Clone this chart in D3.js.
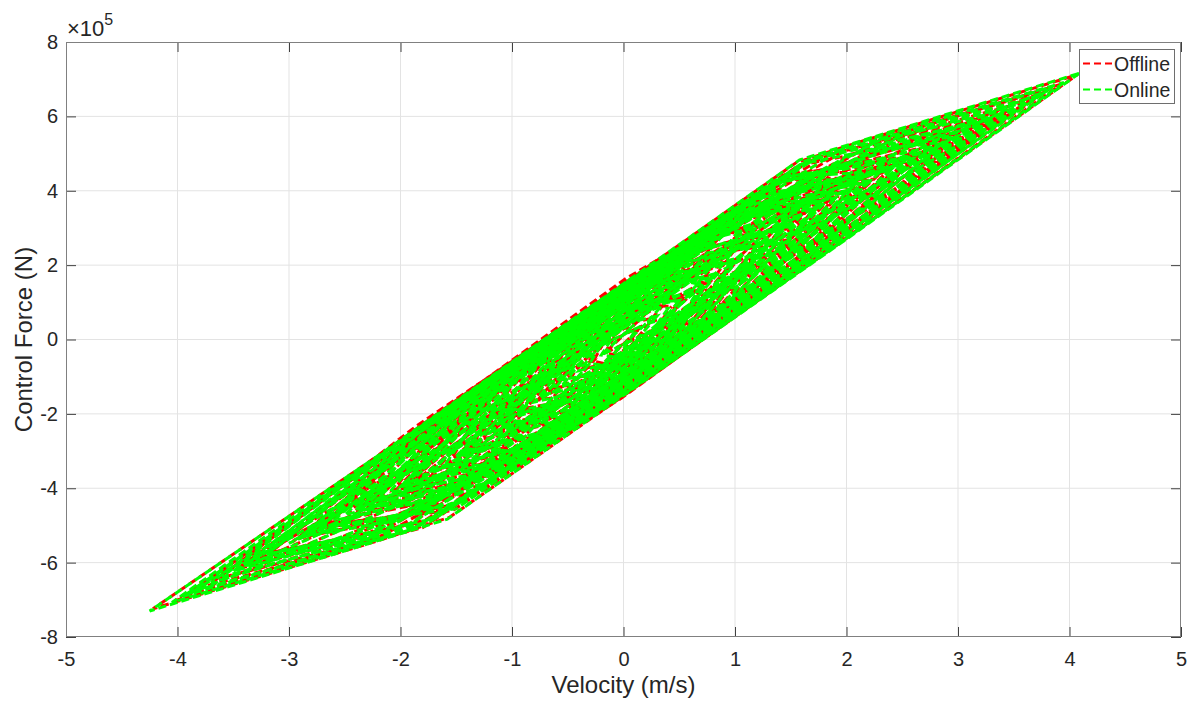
<!DOCTYPE html>
<meta charset="utf-8">
<style>
  body { margin: 0; background: #fff; }
  svg text { font-family: "Liberation Sans", Arial, sans-serif; fill: #262626; }
</style>
<div id="chart"></div>
<script src="https://d3js.org/d3.v7.min.js"></script>
<script>

// velocity (m/s) and control force (in units of 1e5 N), one inner array per hysteresis loop
const offlineLoops = [
  [[4.07,7.12],[2.02,2.78],[-0.05,-1.62],[-1.56,-4.78],[-2.2,-5.41],[-4.22,-7.24],[-2.14,-3.0],[-0.1,1.28],[1.55,4.76],[2.04,5.24]],
  [[3.92,6.86],[1.97,2.66],[0.08,-1.32],[-1.93,-5.15],[-3.82,-6.7],[-1.88,-2.45],[0.02,1.64],[2.03,5.16]],
  [[3.72,6.58],[1.74,2.31],[-0.15,-1.76],[-2.14,-5.24],[-4.02,-7.02],[-2.09,-3.03],[-0.21,1.13],[1.79,4.9]],
  [[3.47,6.18],[1.76,2.24],[-0.08,-1.5],[-1.8,-5.06],[-3.63,-6.42],[-1.86,-2.33],[-0.02,1.4],[1.7,4.87]],
  [[3.33,5.97],[1.6,1.94],[-0.02,-1.58],[-1.76,-4.84],[-3.37,-6.03],[-1.7,-2.27],[-0.08,1.27],[1.66,4.84]],
  [[3.07,5.58],[1.63,2.04],[0.13,-1.12],[-1.43,-4.37],[-2.93,-5.36],[-1.37,-1.5],[0.07,1.64],[1.57,4.68]],
  [[2.88,5.3],[1.31,1.38],[-0.15,-1.7],[-1.72,-4.86],[-3.17,-5.73],[-1.66,-2.12],[-0.21,0.96],[1.37,4.24]],
  [[2.67,4.97],[1.41,1.62],[0.08,-1.17],[-1.25,-4.05],[-2.63,-4.92],[-1.31,-1.31],[0.02,1.48],[1.35,4.16]],
  [[2.53,4.77],[1.15,1.12],[-0.12,-1.57],[-1.51,-4.45],[-2.77,-5.12],[-1.45,-1.75],[-0.18,0.94],[1.21,3.82]],
  [[2.37,4.52],[1.28,1.43],[0.13,-0.99],[-1.08,-3.51],[-2.23,-4.31],[-1.02,-0.91],[0.07,1.51],[1.22,3.83]],
  [[2.23,4.31],[1.02,0.91],[-0.07,-1.41],[-1.28,-3.93],[-2.37,-4.52],[-1.22,-1.33],[-0.13,0.99],[1.08,3.51]],
  [[2.02,3.99],[1.07,1.05],[0.0,-1.17],[-1.02,-3.31],[-1.97,-3.91],[-0.96,-0.85],[0.06,1.29],[1.01,3.31]],
  [[1.93,3.86],[0.97,0.95],[0.13,-0.84],[-0.83,-2.83],[-1.67,-3.46],[-0.77,-0.53],[0.07,1.36],[1.03,3.25]],
  [[1.72,3.53],[0.86,0.69],[-0.07,-1.26],[-1.06,-3.31],[-1.92,-3.83],[-1.0,-1.01],[-0.13,0.84],[0.8,2.79]],
  [[1.63,3.41],[0.8,0.69],[0.08,-0.85],[-0.76,-2.58],[-1.47,-3.1],[-0.7,-0.48],[0.02,1.16],[0.86,2.79]],
  [[1.42,3.0],[0.69,0.44],[-0.1,-1.22],[-0.94,-2.96],[-1.73,-3.56],[-0.88,-0.86],[-0.16,0.68],[0.63,2.34]],
  [[1.43,2.99],[0.7,0.58],[0.08,-0.75],[-0.66,-2.27],[-1.27,-2.68],[-0.6,-0.37],[0.02,1.06],[0.76,2.48]],
  [[1.22,2.58],[0.61,0.39],[-0.07,-1.04],[-0.81,-2.57],[-1.42,-3.0],[-0.75,-0.71],[-0.13,0.62],[0.55,2.05]],
  [[1.23,2.57],[0.6,0.47],[0.08,-0.65],[-0.56,-1.96],[-1.07,-2.26],[-0.5,-0.26],[0.02,0.96],[0.66,2.17]],
  [[1.02,2.16],[0.52,0.33],[-0.05,-0.87],[-0.67,-2.14],[-1.17,-2.47],[-0.61,-0.54],[-0.11,0.53],[0.46,1.73]],
  [[1.03,2.15],[0.5,0.38],[0.08,-0.52],[-0.46,-1.63],[-0.87,-1.84],[-0.4,-0.17],[0.02,0.84],[0.56,1.84]],
  [[0.82,1.74],[0.43,0.27],[-0.02,-0.68],[-0.53,-1.72],[-0.92,-1.95],[-0.47,-0.38],[-0.08,0.46],[0.37,1.41]],
  [[0.83,1.73],[0.4,0.3],[0.08,-0.4],[-0.36,-1.29],[-0.67,-1.42],[-0.3,-0.09],[0.02,0.71],[0.46,1.5]],
  [[0.57,1.21],[0.28,0.08],[-0.07,-0.66],[-0.48,-1.5],[-0.77,-1.63],[-0.42,-0.4],[-0.13,0.24],[0.22,0.98]],
  [[0.53,1.1],[0.22,0.08],[0.03,-0.35],[-0.28,-0.98],[-0.47,-1.0],[-0.22,-0.08],[-0.03,0.45],[0.28,0.98]],
  [[2.63,4.92],[1.82,2.74],[1.13,1.31],[0.32,-0.37],[-0.37,-0.79],[0.38,1.84],[1.07,3.31],[1.88,4.72]],
  [[2.97,5.43],[2.33,3.78],[1.57,2.36],[0.93,0.99],[0.23,0.47],[0.87,2.79],[1.63,4.33],[2.27,5.04]],
  [[0.27,0.58],[-0.42,-1.95],[-1.23,-3.62],[-1.92,-4.73],[-2.67,-4.97],[-1.98,-3.03],[-1.17,-1.42],[-0.48,0.06]],
  [[-0.27,-0.58],[-1.06,-3.16],[-1.72,-4.42],[-2.51,-5.36],[-3.17,-5.73],[-2.45,-4.02],[-1.78,-2.74],[-1.0,-1.16]],
  [[2.23,4.31],[1.77,2.97],[1.43,2.29],[0.97,1.35],[0.63,1.31],[1.03,2.85],[1.37,3.59],[1.83,4.34]],
  [[-0.47,-1.0],[-0.98,-2.75],[-1.37,-3.59],[-1.88,-4.4],[-2.27,-4.36],[-1.82,-3.05],[-1.43,-2.29],[-0.92,-1.25]],
  [[2.03,4.01],[1.22,1.63],[0.53,0.15],[-0.28,-1.53],[-0.97,-2.05],[-0.22,0.47],[0.47,1.95],[1.28,3.63]],
  [[0.97,2.05],[0.28,-0.37],[-0.53,-2.05],[-1.22,-3.53],[-2.03,-4.01],[-1.28,-1.63],[-0.47,-0.15],[0.22,1.43]],
  [[3.82,6.75],[1.53,1.86],[-0.27,-1.93],[-2.33,-5.43],[-3.92,-6.86],[-1.57,-1.96],[0.37,2.14],[2.33,5.41]],
  [[3.63,6.42],[1.17,1.27],[-0.93,-3.14],[-2.27,-5.22],[-3.27,-5.88],[-1.23,-1.37],[0.83,2.93],[2.47,5.46]],
  [[3.17,5.73],[2.13,3.14],[0.23,-0.81],[-1.93,-4.99],[-3.67,-6.49],[-2.57,-4.04],[-0.53,0.18],[1.43,4.27]],
  [[3.43,6.12],[2.27,3.53],[0.63,0.16],[-1.17,-3.62],[-2.47,-4.67],[-1.63,-2.26],[0.07,1.31],[2.03,4.97]],
  [[2.37,4.52],[1.53,2.05],[-0.07,-1.31],[-2.33,-5.29],[-3.47,-6.18],[-2.17,-3.34],[-0.63,-0.16],[1.17,3.62]],
  [[2.93,5.36],[1.87,2.84],[0.33,-0.37],[-1.27,-3.73],[-2.27,-4.36],[-1.13,-1.31],[0.57,2.26],[2.23,5.1]],
  [[2.17,4.21],[1.23,1.52],[-0.47,-2.05],[-2.03,-4.89],[-2.87,-5.27],[-2.07,-3.22],[-0.33,0.37],[1.37,3.94]],
  [[2.33,4.54],[1.37,1.94],[0.23,-0.48],[-1.07,-3.21],[-1.87,-3.76],[-1.03,-1.2],[0.37,1.74],[1.73,4.46]],
  [[1.83,3.71],[0.97,1.1],[-0.37,-1.74],[-1.73,-4.47],[-2.37,-4.45],[-1.47,-2.15],[-0.23,0.48],[1.07,3.21]],
  [[1.73,3.56],[0.97,0.75],[0.03,-1.25],[-0.97,-3.35],[-1.57,-3.31],[-1.03,-0.85],[-0.03,1.25],[1.03,3.45]],
  [[2.63,4.92],[1.57,1.9],[0.33,-0.74],[-0.97,-3.47],[-2.07,-4.06],[-1.33,-1.36],[-0.03,1.37],[1.43,4.41]],
  [[1.87,3.76],[1.13,0.96],[-0.27,-1.98],[-1.53,-4.6],[-2.67,-4.97],[-1.93,-2.63],[-0.57,0.19],[0.87,3.24]],
  [[1.53,3.2],[0.77,1.03],[0.13,-0.34],[-0.63,-1.91],[-1.17,-2.47],[-0.57,-0.61],[0.17,0.97],[0.93,2.54]],
  [[0.73,1.52],[0.27,-0.52],[-0.07,-1.26],[-0.53,-2.2],[-0.87,-1.84],[-0.47,0.1],[-0.13,0.84],[0.33,1.78]],
  [[1.27,2.68],[0.93,0.84],[0.47,-0.1],[0.13,-0.84],[-0.27,-0.58],[0.07,1.26],[0.53,2.2],[0.87,2.94]],
  [[3.27,5.88],[2.63,4.4],[1.87,3.01],[1.33,1.93],[0.83,1.73],[1.27,3.53],[1.93,4.61],[2.57,5.34]],
  [[-0.87,-1.84],[-1.33,-3.63],[-1.87,-4.51],[-2.63,-5.44],[-3.37,-6.03],[-2.57,-4.3],[-1.93,-3.11],[-1.27,-1.83]],
  [[3.77,6.64],[3.23,5.62],[2.47,4.31],[1.83,3.2],[1.23,2.57],[1.77,4.12],[2.53,5.13],[3.17,5.94]],
  [[-1.27,-2.68],[-1.83,-4.22],[-2.47,-5.03],[-3.23,-6.04],[-3.87,-6.79],[-3.17,-5.52],[-2.53,-4.41],[-1.77,-3.1]],
  [[0.43,0.89],[0.03,-0.85],[-0.53,-2.0],[-0.97,-2.95],[-1.37,-2.89],[-1.03,-1.25],[-0.47,-0.1],[-0.03,0.95]],
  [[2.07,4.06],[1.53,1.95],[0.87,0.59],[0.33,-0.57],[-0.17,-0.37],[0.27,1.83],[0.93,3.19],[1.47,4.35]],
  [[0.13,0.26],[-0.43,-2.14],[-0.97,-3.3],[-1.63,-4.64],[-2.17,-4.21],[-1.57,-2.06],[-1.03,-0.9],[-0.37,0.46]],
  [[2.97,5.43],[1.53,2.85],[0.03,-0.3],[-1.47,-3.45],[-2.97,-5.43],[-1.53,-2.85],[-0.03,0.3],[1.47,3.45]],
  [[2.63,4.92],[1.32,2.19],[0.13,-0.34],[-1.18,-3.07],[-2.37,-4.52],[-1.12,-1.77],[0.07,0.86],[1.38,3.49]],
  [[1.63,3.41],[0.67,0.97],[-0.17,-0.82],[-1.13,-2.81],[-1.97,-3.91],[-1.07,-1.81],[-0.23,0.08],[0.73,1.97]],
  [[2.17,4.21],[1.33,2.33],[0.32,0.24],[-0.57,-1.66],[-1.53,-3.2],[-0.63,-0.86],[0.38,1.24],[1.27,3.13]],
  [[1.83,3.71],[1.12,2.07],[0.53,0.8],[-0.18,-0.67],[-0.77,-1.63],[-0.12,0.03],[0.47,1.3],[1.18,2.77]],
  [[0.77,1.63],[0.18,0.07],[-0.47,-1.3],[-1.18,-2.77],[-1.83,-3.71],[-1.12,-2.07],[-0.53,-0.8],[0.12,0.57]],
  [[1.17,2.47],[0.78,0.88],[0.27,-0.17],[-0.12,-1.02],[-0.63,-1.31],[-0.18,0.38],[0.33,1.43],[0.72,2.28]],
  [[0.53,1.1],[0.07,-0.59],[-0.27,-1.33],[-0.73,-2.27],[-1.07,-2.26],[-0.67,-0.67],[-0.33,0.07],[0.13,1.01]],
  [[3.47,6.18],[2.88,5.15],[2.17,3.98],[1.58,3.01],[0.93,1.94],[1.52,3.51],[2.23,4.54],[2.82,5.35]],
  [[-0.93,-1.94],[-1.52,-3.51],[-2.23,-4.54],[-2.82,-5.35],[-3.47,-6.18],[-2.88,-5.15],[-2.17,-3.98],[-1.58,-3.01]],
  [[2.77,5.12],[2.08,3.68],[1.27,2.18],[0.58,0.71],[-0.17,-0.37],[0.52,1.61],[1.33,3.28],[2.02,4.4]],
  [[0.17,0.37],[-0.52,-1.61],[-1.33,-3.28],[-2.02,-4.4],[-2.77,-5.12],[-2.08,-3.68],[-1.27,-2.18],[-0.58,-0.71]]
];

const onlineLoops = [
  [[4.09,7.16],[2.0,2.7],[-0.08,-1.67],[-1.58,-4.83],[-2.17,-5.38],[-4.25,-7.3],[-2.17,-3.06],[-0.08,1.33],[1.58,4.83],[2.0,5.22]],
  [[3.95,6.91],[2.0,2.72],[0.05,-1.38],[-1.9,-5.11],[-3.85,-6.76],[-1.9,-2.51],[0.05,1.59],[2.0,5.2]],
  [[3.7,6.54],[1.76,2.25],[-0.18,-1.82],[-2.11,-5.29],[-4.05,-7.07],[-2.11,-2.97],[-0.18,1.08],[1.76,4.95]],
  [[3.5,6.23],[1.73,2.18],[-0.05,-1.56],[-1.83,-5.01],[-3.6,-6.38],[-1.83,-2.39],[-0.05,1.35],[1.73,4.92]],
  [[3.3,5.93],[1.63,2.0],[-0.05,-1.53],[-1.73,-4.89],[-3.4,-6.08],[-1.73,-2.21],[-0.05,1.32],[1.63,4.8]],
  [[3.1,5.63],[1.6,1.98],[0.1,-1.17],[-1.4,-4.32],[-2.9,-5.32],[-1.4,-1.56],[0.1,1.59],[1.6,4.72]],
  [[2.85,5.25],[1.34,1.43],[-0.18,-1.75],[-1.69,-4.81],[-3.2,-5.78],[-1.69,-2.17],[-0.18,1.01],[1.34,4.19]],
  [[2.7,5.02],[1.38,1.57],[0.05,-1.22],[-1.28,-4.0],[-2.6,-4.87],[-1.28,-1.36],[0.05,1.43],[1.38,4.21]],
  [[2.5,4.72],[1.18,1.17],[-0.15,-1.62],[-1.48,-4.4],[-2.8,-5.17],[-1.48,-1.8],[-0.15,0.99],[1.18,3.77]],
  [[2.4,4.57],[1.25,1.38],[0.1,-1.04],[-1.05,-3.46],[-2.2,-4.26],[-1.05,-0.96],[0.1,1.46],[1.25,3.88]],
  [[2.2,4.26],[1.05,0.96],[-0.1,-1.46],[-1.25,-3.88],[-2.4,-4.57],[-1.25,-1.38],[-0.1,1.04],[1.05,3.46]],
  [[2.05,4.04],[1.04,1.0],[0.03,-1.12],[-0.99,-3.26],[-2.0,-3.96],[-0.99,-0.9],[0.03,1.24],[1.04,3.36]],
  [[1.9,3.81],[1.0,1.0],[0.1,-0.89],[-0.8,-2.78],[-1.7,-3.51],[-0.8,-0.58],[0.1,1.31],[1.0,3.2]],
  [[1.75,3.58],[0.83,0.64],[-0.1,-1.31],[-1.03,-3.26],[-1.95,-3.88],[-1.03,-1.06],[-0.1,0.89],[0.83,2.84]],
  [[1.6,3.36],[0.83,0.74],[0.05,-0.9],[-0.73,-2.53],[-1.5,-3.15],[-0.73,-0.53],[0.05,1.11],[0.83,2.74]],
  [[1.45,3.05],[0.66,0.39],[-0.13,-1.27],[-0.91,-2.91],[-1.7,-3.51],[-0.91,-0.91],[-0.13,0.73],[0.66,2.39]],
  [[1.4,2.94],[0.73,0.63],[0.05,-0.8],[-0.63,-2.22],[-1.3,-2.73],[-0.63,-0.42],[0.05,1.01],[0.73,2.43]],
  [[1.25,2.63],[0.58,0.34],[-0.1,-1.09],[-0.78,-2.52],[-1.45,-3.05],[-0.78,-0.76],[-0.1,0.67],[0.58,2.1]],
  [[1.2,2.52],[0.63,0.52],[0.05,-0.7],[-0.53,-1.91],[-1.1,-2.31],[-0.53,-0.31],[0.05,0.91],[0.63,2.12]],
  [[1.05,2.21],[0.49,0.28],[-0.08,-0.92],[-0.64,-2.09],[-1.2,-2.52],[-0.64,-0.59],[-0.08,0.58],[0.49,1.78]],
  [[1.0,2.1],[0.53,0.43],[0.05,-0.57],[-0.43,-1.58],[-0.9,-1.89],[-0.43,-0.22],[0.05,0.79],[0.53,1.79]],
  [[0.85,1.79],[0.4,0.22],[-0.05,-0.73],[-0.5,-1.67],[-0.95,-2.0],[-0.5,-0.43],[-0.05,0.51],[0.4,1.46]],
  [[0.8,1.68],[0.43,0.35],[0.05,-0.45],[-0.33,-1.24],[-0.7,-1.47],[-0.33,-0.14],[0.05,0.66],[0.43,1.45]],
  [[0.6,1.26],[0.25,0.03],[-0.1,-0.71],[-0.45,-1.45],[-0.8,-1.68],[-0.45,-0.45],[-0.1,0.29],[0.25,1.03]],
  [[0.5,1.05],[0.25,0.13],[0,-0.4],[-0.25,-0.93],[-0.5,-1.05],[-0.25,-0.13],[0,0.4],[0.25,0.93]],
  [[2.6,4.87],[1.85,2.79],[1.1,1.26],[0.35,-0.32],[-0.4,-0.84],[0.35,1.79],[1.1,3.36],[1.85,4.68]],
  [[3.0,5.48],[2.3,3.73],[1.6,2.41],[0.9,0.94],[0.2,0.42],[0.9,2.84],[1.6,4.29],[2.3,5.09]],
  [[0.3,0.63],[-0.45,-2.0],[-1.2,-3.57],[-1.95,-4.78],[-2.7,-5.02],[-1.95,-2.98],[-1.2,-1.47],[-0.45,0.11]],
  [[-0.3,-0.63],[-1.03,-3.11],[-1.75,-4.47],[-2.48,-5.31],[-3.2,-5.78],[-2.48,-4.07],[-1.75,-2.69],[-1.03,-1.21]],
  [[2.2,4.26],[1.8,3.02],[1.4,2.24],[1.0,1.4],[0.6,1.26],[1.0,2.8],[1.4,3.64],[1.8,4.3]],
  [[-0.5,-1.05],[-0.95,-2.7],[-1.4,-3.64],[-1.85,-4.36],[-2.3,-4.41],[-1.85,-3.1],[-1.4,-2.24],[-0.95,-1.3]],
  [[2.0,3.96],[1.25,1.68],[0.5,0.1],[-0.25,-1.48],[-1.0,-2.1],[-0.25,0.42],[0.5,2.0],[1.25,3.58]],
  [[1.0,2.1],[0.25,-0.42],[-0.5,-2.0],[-1.25,-3.58],[-2.0,-3.96],[-1.25,-1.68],[-0.5,-0.1],[0.25,1.48]],
  [[3.85,6.8],[1.5,1.8],[-0.3,-1.98],[-2.3,-5.38],[-3.95,-6.91],[-1.6,-2.01],[0.4,2.19],[2.3,5.38]],
  [[3.6,6.38],[1.2,1.32],[-0.9,-3.09],[-2.3,-5.27],[-3.3,-5.93],[-1.2,-1.32],[0.8,2.88],[2.5,5.5]],
  [[3.2,5.78],[2.1,3.09],[0.2,-0.86],[-1.9,-4.94],[-3.7,-6.54],[-2.6,-4.09],[-0.5,0.23],[1.4,4.22]],
  [[3.4,6.08],[2.3,3.58],[0.6,0.11],[-1.2,-3.67],[-2.5,-4.72],[-1.6,-2.21],[0.1,1.36],[2.0,4.93]],
  [[2.4,4.57],[1.5,2.0],[-0.1,-1.36],[-2.3,-5.24],[-3.5,-6.23],[-2.2,-3.39],[-0.6,-0.11],[1.2,3.67]],
  [[2.9,5.32],[1.9,2.89],[0.3,-0.42],[-1.3,-3.78],[-2.3,-4.41],[-1.1,-1.26],[0.6,2.31],[2.2,5.06]],
  [[2.2,4.26],[1.2,1.47],[-0.5,-2.1],[-2.0,-4.84],[-2.9,-5.32],[-2.1,-3.27],[-0.3,0.42],[1.4,3.99]],
  [[2.3,4.5],[1.4,1.99],[0.2,-0.53],[-1.1,-3.26],[-1.9,-3.81],[-1.0,-1.15],[0.4,1.79],[1.7,4.42]],
  [[1.8,3.66],[1.0,1.15],[-0.4,-1.79],[-1.7,-4.42],[-2.4,-4.5],[-1.5,-2.2],[-0.2,0.53],[1.1,3.26]],
  [[1.7,3.51],[1.0,0.8],[0,-1.3],[-1.0,-3.4],[-1.6,-3.36],[-1.0,-0.8],[0,1.3],[1.0,3.4]],
  [[2.6,4.87],[1.6,1.95],[0.3,-0.79],[-1.0,-3.52],[-2.1,-4.11],[-1.3,-1.31],[0,1.42],[1.4,4.36]],
  [[1.9,3.81],[1.1,0.91],[-0.3,-2.03],[-1.5,-4.55],[-2.7,-5.02],[-1.9,-2.58],[-0.6,0.14],[0.9,3.29]],
  [[1.5,3.15],[0.8,1.08],[0.1,-0.39],[-0.6,-1.86],[-1.2,-2.52],[-0.6,-0.66],[0.2,1.02],[0.9,2.49]],
  [[0.7,1.47],[0.3,-0.47],[-0.1,-1.31],[-0.5,-2.15],[-0.9,-1.89],[-0.5,0.05],[-0.1,0.89],[0.3,1.73]],
  [[1.3,2.73],[0.9,0.79],[0.5,-0.05],[0.1,-0.89],[-0.3,-0.63],[0.1,1.31],[0.5,2.15],[0.9,2.99]],
  [[3.3,5.93],[2.6,4.35],[1.9,3.06],[1.3,1.88],[0.8,1.68],[1.3,3.58],[1.9,4.56],[2.6,5.39]],
  [[-0.9,-1.89],[-1.3,-3.58],[-1.9,-4.56],[-2.6,-5.39],[-3.4,-6.08],[-2.6,-4.35],[-1.9,-3.06],[-1.3,-1.88]],
  [[3.8,6.69],[3.2,5.57],[2.5,4.36],[1.8,3.15],[1.2,2.52],[1.8,4.17],[2.5,5.08],[3.2,5.99]],
  [[-1.3,-2.73],[-1.8,-4.17],[-2.5,-5.08],[-3.2,-5.99],[-3.9,-6.84],[-3.2,-5.57],[-2.5,-4.36],[-1.8,-3.15]],
  [[0.4,0.84],[0,-0.9],[-0.5,-1.95],[-1.0,-3.0],[-1.4,-2.94],[-1.0,-1.2],[-0.5,-0.15],[0,0.9]],
  [[2.1,4.11],[1.5,1.9],[0.9,0.64],[0.3,-0.62],[-0.2,-0.42],[0.3,1.88],[0.9,3.14],[1.5,4.4]],
  [[0.1,0.21],[-0.4,-2.09],[-1.0,-3.35],[-1.6,-4.59],[-2.2,-4.26],[-1.6,-2.11],[-1.0,-0.85],[-0.4,0.41]],
  [[3.0,5.48],[1.5,2.8],[0,-0.35],[-1.5,-3.5],[-3.0,-5.48],[-1.5,-2.8],[0,0.35],[1.5,3.5]],
  [[2.6,4.87],[1.35,2.24],[0.1,-0.39],[-1.15,-3.02],[-2.4,-4.57],[-1.15,-1.82],[0.1,0.81],[1.35,3.44]],
  [[1.6,3.36],[0.7,1.02],[-0.2,-0.87],[-1.1,-2.76],[-2.0,-3.96],[-1.1,-1.86],[-0.2,0.03],[0.7,1.92]],
  [[2.2,4.26],[1.3,2.28],[0.35,0.29],[-0.6,-1.71],[-1.5,-3.15],[-0.6,-0.81],[0.35,1.19],[1.3,3.18]],
  [[1.8,3.66],[1.15,2.12],[0.5,0.75],[-0.15,-0.62],[-0.8,-1.68],[-0.15,-0.02],[0.5,1.35],[1.15,2.72]],
  [[0.8,1.68],[0.15,0.02],[-0.5,-1.35],[-1.15,-2.72],[-1.8,-3.66],[-1.15,-2.12],[-0.5,-0.75],[0.15,0.62]],
  [[1.2,2.52],[0.75,0.83],[0.3,-0.12],[-0.15,-1.07],[-0.6,-1.26],[-0.15,0.43],[0.3,1.38],[0.75,2.33]],
  [[0.5,1.05],[0.1,-0.54],[-0.3,-1.38],[-0.7,-2.22],[-1.1,-2.31],[-0.7,-0.72],[-0.3,0.12],[0.1,0.96]],
  [[3.5,6.23],[2.85,5.1],[2.2,4.03],[1.55,2.96],[0.9,1.89],[1.55,3.56],[2.2,4.49],[2.85,5.4]],
  [[-0.9,-1.89],[-1.55,-3.56],[-2.2,-4.49],[-2.85,-5.4],[-3.5,-6.23],[-2.85,-5.1],[-2.2,-4.03],[-1.55,-2.96]],
  [[2.8,5.17],[2.05,3.63],[1.3,2.23],[0.55,0.66],[-0.2,-0.42],[0.55,1.66],[1.3,3.23],[2.05,4.45]],
  [[0.2,0.42],[-0.55,-1.66],[-1.3,-3.23],[-2.05,-4.45],[-2.8,-5.17],[-2.05,-3.63],[-1.3,-2.23],[-0.55,-0.66]]
];

const xTicks = [-5, -4, -3, -2, -1, 0, 1, 2, 3, 4, 5];
const yTicks = [-8, -6, -4, -2, 0, 2, 4, 6, 8];
const seriesNames = ["Offline", "Online"];
const seriesColors = ["#ff0000", "#00ff00"];

// set the dimensions and margins of the graph
const margin = {top: 42, right: 9, bottom: 65, left: 66},
    width = 1190 - margin.left - margin.right,
    height = 702 - margin.top - margin.bottom;

const svg = d3.select("#chart")
  .append("svg")
    .attr("width", width + margin.left + margin.right)
    .attr("height", height + margin.top + margin.bottom)
  .append("g")
    .attr("transform", `translate(${margin.left},${margin.top})`);

const x = d3.scaleLinear().domain([-5, 5]).range([0, width]);
const y = d3.scaleLinear().domain([-8, 8]).range([height, 0]);

// grid
svg.append("g").selectAll("line").data(xTicks.slice(1, -1)).join("line")
  .attr("x1", d => x(d)).attr("x2", d => x(d)).attr("y1", 0).attr("y2", height)
  .attr("stroke", "#e3e3e3").attr("stroke-width", 1);
svg.append("g").selectAll("line").data(yTicks.slice(1, -1)).join("line")
  .attr("y1", d => y(d)).attr("y2", d => y(d)).attr("x1", 0).attr("x2", width)
  .attr("stroke", "#e3e3e3").attr("stroke-width", 1);

// data
svg.append("clipPath").attr("id", "clip")
  .append("rect").attr("width", width).attr("height", height);
const plot = svg.append("g").attr("clip-path", "url(#clip)");
const line = d3.line()
  .x(d => x(d[0]))
  .y(d => y(d[1]))
  .curve(d3.curveLinearClosed);

// offline first, online drawn on top (dash phase shifted so red shows in the gaps)
[offlineLoops, onlineLoops].forEach((loops, i) => {
  plot.append("g").selectAll("path").data(loops).join("path")
    .attr("d", line)
    .attr("fill", "none")
    .attr("stroke", seriesColors[i])
    .attr("stroke-width", 3)
    .attr("stroke-dasharray", "8,4")
    .attr("stroke-dashoffset", i === 0 ? 6 : 0);
});

// axes, ticks inside on all four sides
const fmt = d => String(d);
function styleAxis(g) {
  g.select(".domain").remove();
  g.selectAll(".tick line").attr("stroke", "#404040");
  g.selectAll(".tick text").attr("fill", "#262626").style("font-size", "20px");
}
svg.append("g").attr("transform", `translate(0,${height})`)
  .call(d3.axisBottom(x).tickValues(xTicks).tickFormat(fmt).tickSize(-10).tickPadding(15))
  .call(styleAxis);
svg.append("g")
  .call(d3.axisLeft(y).tickValues(yTicks).tickFormat(fmt).tickSize(-10).tickPadding(8))
  .call(styleAxis);
svg.append("g")
  .call(d3.axisTop(x).tickValues(xTicks).tickFormat("").tickSize(-10))
  .call(styleAxis);
svg.append("g").attr("transform", `translate(${width},0)`)
  .call(d3.axisRight(y).tickValues(yTicks).tickFormat("").tickSize(-10))
  .call(styleAxis);

svg.append("rect")
  .attr("x", 0.5).attr("y", 0.5).attr("width", width - 1).attr("height", height - 1)
  .attr("fill", "none").attr("stroke", "#808080").attr("stroke-width", 1);

// exponent
const expo = svg.append("text").attr("x", 1).attr("y", -6).style("font-size", "22px");
expo.append("tspan").text("\u00d710");
expo.append("tspan").attr("dy", -11).style("font-size", "16px").text("5");

// axis labels
svg.append("text")
  .attr("x", width / 2).attr("y", height + 56)
  .attr("text-anchor", "middle").style("font-size", "24px")
  .text("Velocity (m/s)");
svg.append("text")
  .attr("transform", `translate(${-34},${height / 2}) rotate(-90)`)
  .attr("text-anchor", "middle").style("font-size", "24px")
  .text("Control Force (N)");

// legend
const legend = svg.append("g").attr("transform", `translate(${width - 102},7)`);
legend.append("rect")
  .attr("x", 0.5).attr("y", 0.5).attr("width", 95).attr("height", 54)
  .attr("fill", "#fff").attr("stroke", "#6e6e6e").attr("stroke-width", 1);
seriesNames.forEach((name, i) => {
  const ly = 14.5 + i * 26;
  legend.append("line")
    .attr("x1", 4).attr("x2", 33).attr("y1", ly).attr("y2", ly)
    .attr("stroke", seriesColors[i]).attr("stroke-width", 2)
    .attr("stroke-dasharray", "7,4");
  legend.append("text")
    .attr("x", 35).attr("y", ly + 7.5)
    .style("font-size", "19.5px")
    .text(name);
});

</script>
